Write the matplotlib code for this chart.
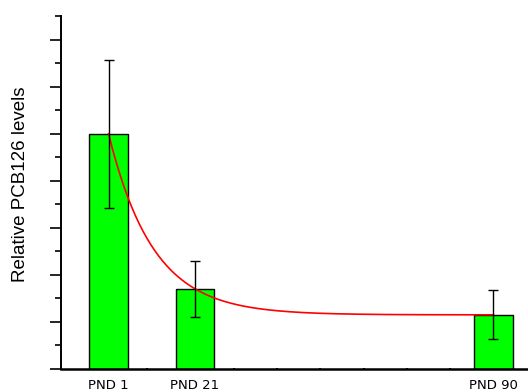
import numpy as np
import matplotlib
matplotlib.use('Agg')
import matplotlib.pyplot as plt
from matplotlib.ticker import MultipleLocator, FixedLocator

# 数据
days = [1, 21, 90]
labels = ['PND 1', 'PND 21', 'PND 90']
levels = [5.0, 1.70, 1.155]
errors = [1.57, 0.59, 0.52]

# 指数衰减拟合参数 y = plateau + span*exp(-k*(x-x0))
plateau = 1.15
span = 3.85
k = 0.097
x0 = 1

fig = plt.figure(figsize=(5.28, 3.92), dpi=100)
ax = fig.add_axes([61/528, 23/392, 467/528, 353/392])

ax.bar(days, levels, width=8.9, color='#00ff00', edgecolor='black', linewidth=1, zorder=2)
xs = np.linspace(days[0], days[-1], 300)
ax.plot(xs, plateau + span*np.exp(-k*(xs - x0)), color='red', linewidth=1.2, zorder=3)
ax.errorbar(days, levels, yerr=errors, fmt='none', ecolor='black', elinewidth=1, capsize=3.5, capthick=1, zorder=4)

ax.set_xlim(-10, 98)
ax.set_ylim(0, 7.5)
for s in ['top', 'right']:
    ax.spines[s].set_visible(False)
ax.spines['left'].set_linewidth(1.4)
ax.spines['bottom'].set_linewidth(1.8)

ax.yaxis.set_major_locator(MultipleLocator(1))
ax.yaxis.set_minor_locator(MultipleLocator(0.5))
ax.set_yticklabels([])
ax.tick_params(axis='y', which='major', length=8, width=1.2)
ax.tick_params(axis='y', which='minor', length=4, width=1.2)

ax.xaxis.set_major_locator(FixedLocator(days))
ax.set_xticklabels(labels, fontsize=9.5, family='DejaVu Sans')
ax.xaxis.set_minor_locator(FixedLocator(range(10, 100, 10)))
ax.tick_params(axis='x', which='major', length=0, pad=7)
ax.tick_params(axis='x', which='minor', length=2, width=1.5, direction='inout')

ax.set_ylabel('Relative PCB126 levels', fontsize=13.5, family=['Liberation Sans', 'DejaVu Sans'])
ax.yaxis.set_label_coords(-0.068, 0.522)

plt.savefig('out.png', dpi=100)
